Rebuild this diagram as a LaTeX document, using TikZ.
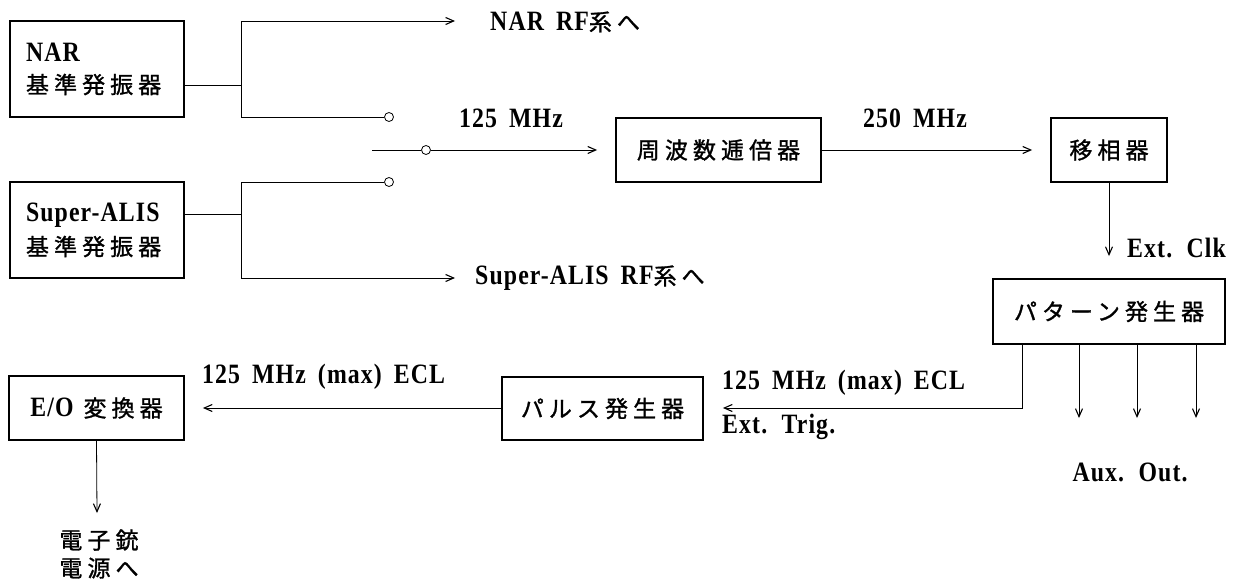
\documentclass[tikz,border=0pt]{standalone}
\usepackage{fontspec}
\usetikzlibrary{arrows.meta}
\newfontfamily\lat[FakeStretch=0.85,WordSpace=1.7,LetterSpace=4]{Liberation Serif}
\newfontfamily\cjk[LetterSpace=22,FakeBold=1.2]{Noto Sans CJK JP}
\newcommand{\lt}[1]{{\lat\bfseries\fontsize{28}{32}\selectfont #1}}
\newcommand{\jp}[1]{{\cjk\fontsize{23}{32}\selectfont #1}}
\tikzset{
  blk/.style={draw, line width=1.8pt, inner sep=0pt, minimum height=64pt},
  wire/.style={line width=0.8pt},
  arr/.style={wire, -{Straight Barb[length=8pt,width=7pt,line width=1.1pt]}},
  sw/.style={circle, draw, line width=0.8pt, fill=white, inner sep=0pt, minimum size=9pt},
  lbl/.style={inner sep=0pt, anchor=west}
}
\begin{document}
\begin{tikzpicture}[x=1pt,y=-1pt]
\useasboundingbox (0,0) rectangle (1260,580);
% boxes
\node[blk, minimum width=174pt, minimum height=96pt, align=left, text width=142pt, font=\fontsize{22}{32}\selectfont] (nar) at (97,69) {\lt{NAR}\\\jp{基準発振器}};
\node[blk, minimum width=174pt, minimum height=96pt, align=left, text width=142pt, font=\fontsize{22}{34}\selectfont] (sa) at (97,230) {\lt{Super-ALIS}\\\jp{基準発振器}};
\node[blk, minimum width=205pt] (mul) at (718.5,150) {\jp{周波数逓倍器}};
\node[blk, minimum width=116pt] (ph) at (1109,150) {\jp{移相器}};
\node[blk, minimum width=232pt, minimum height=65pt] (pg) at (1109,311.5) {\jp{パターン発生器}};
\node[blk, minimum width=201pt, minimum height=63pt] (pu) at (602.5,408.5) {\jp{パルス発生器}};
\node[blk, minimum width=175pt, minimum height=64pt] (eo) at (96.5,408) {\lt{E/O}\hspace{10pt}\jp{変換器}};
% switch contacts
\node[sw] (c1) at (389,117) {};
\node[sw] (c2) at (389,182) {};
\node[sw] (cp) at (426,150) {};
\coordinate (j1) at (241,85);
\coordinate (j2) at (241,214);
\coordinate (t1) at (455,21);
\coordinate (t2) at (455,278);
\coordinate (s0) at (372,150);
% NAR branch
\draw[wire] (nar.east |- j1) -- (j1);
\draw[arr] (241,117) -- (241,21) -- (t1);
\draw[wire] (241,85) -- (241,117) -- (c1.west);
% Super-ALIS branch
\draw[wire] (sa.east |- j2) -- (j2);
\draw[wire] (241,214) -- (241,182) -- (c2.west);
\draw[arr] (241,214) -- (241,278) -- (t2);
% switch pivot
\draw[wire] (s0) -- (cp.west);
\draw[arr, shorten >=18pt] (cp.east) -- (mul.west);
\draw[arr, shorten >=18pt] (mul.east) -- (ph.west);
\draw[arr, shorten >=22pt] (ph.south) -- (pg.north);
% pattern -> pulse
\coordinate (pgo) at (1022,344);
\draw[arr, shorten >=19pt] (pgo) -- (1022,408) -- (pu.east |- 0,408);
\draw[arr, shorten >=18pt] (pu.west |- 0,408) -- (eo.east |- 0,408);
\foreach \x/\n in {1079/a1,1137/a2,1196/a3}{
  \coordinate (\n) at (\x,418);
  \draw[arr] (\x,344) -- (\n);
}
\coordinate (eoo) at (97,513);
\draw[arr] (eo.south) -- (eoo);
% labels
\node[lbl] (l1) at (490,22) {\lt{NAR RF}\jp{系へ}};
\node[lbl] (l2) at (475,278) {\lt{Super-ALIS RF}\jp{系へ}};
\node[inner sep=0pt] (l3) at (511,118) {\lt{125 MHz}};
\node[inner sep=0pt] (l4) at (915,118) {\lt{250 MHz}};
\node[lbl] (l5) at (1127,248) {\lt{Ext. Clk}};
\node[inner sep=0pt] (l6) at (1130,472) {\lt{Aux. Out.}};
\node[lbl] (l7) at (722,383) {\lt{125 MHz (max) ECL}};
\node[lbl] (l8) at (722,427) {\lt{Ext. Trig.}};
\node[lbl] (l9) at (202,377) {\lt{125 MHz (max) ECL}};
\node[inner sep=0pt, align=center, font=\fontsize{22}{28}\selectfont] (l10) at (99,554) {\jp{電子銃}\\\jp{電源へ}};
\end{tikzpicture}
\end{document}
